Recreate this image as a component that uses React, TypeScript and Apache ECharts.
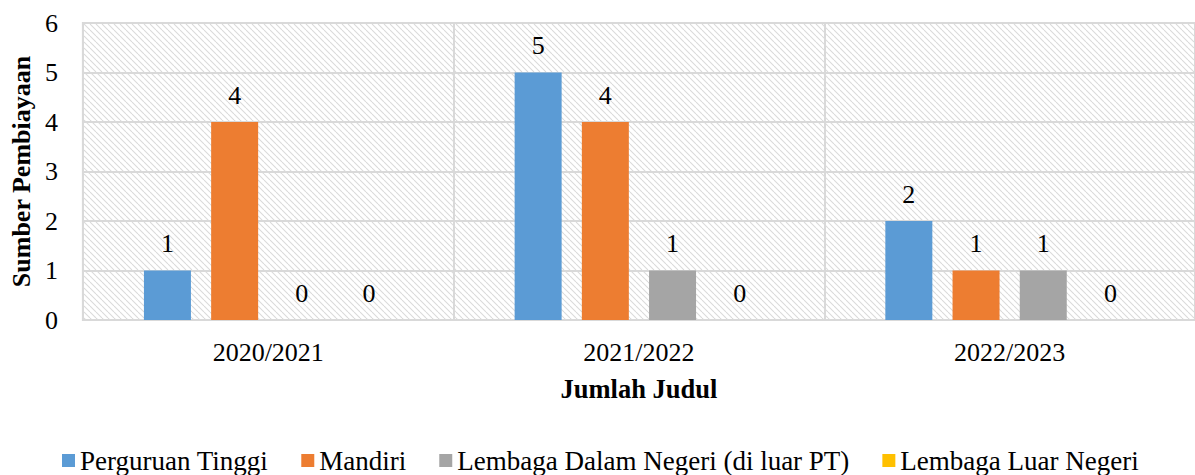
import React, { useEffect, useRef } from "react";
import * as echarts from "echarts";

const categories = ["2020/2021", "2021/2022", "2022/2023"];
const seriesNames = [
  "Perguruan Tinggi",
  "Mandiri",
  "Lembaga Dalam Negeri (di luar PT)",
  "Lembaga Luar Negeri",
];
const perguruanTinggi = [1, 5, 2];
const mandiri = [4, 4, 1];
const lembagaDalamNegeri = [0, 1, 1];
const lembagaLuarNegeri = [0, 0, 0];
const yTicks = [0, 1, 2, 3, 4, 5, 6];
const colors = ["#5B9BD5", "#ED7D31", "#A5A5A5", "#FFC000"];

function makeHatch(): HTMLCanvasElement {
  const c = document.createElement("canvas");
  const s = 6;
  c.width = s;
  c.height = s;
  const ctx = c.getContext("2d")!;
  ctx.fillStyle = "#ffffff";
  ctx.fillRect(0, 0, s, s);
  ctx.strokeStyle = "#dadada";
  ctx.lineWidth = 1.1;
  for (const off of [-s, 0, s]) {
    ctx.beginPath();
    ctx.moveTo(off, 0);
    ctx.lineTo(off + s, s);
    ctx.stroke();
  }
  return c;
}

export default function App() {
  const ref = useRef<HTMLDivElement>(null);
  useEffect(() => {
    document.body.style.margin = "0";
    const chart = echarts.init(ref.current!, null, { renderer: "svg" });
    const font = "Liberation Serif";
    const data = [perguruanTinggi, mandiri, lembagaDalamNegeri, lembagaLuarNegeri];
    chart.setOption({
      animation: false,
      textStyle: { fontFamily: font },
      grid: {
        left: 82,
        top: 23,
        width: 1126,
        height: 297,
        show: true,
        borderColor: "#d9d9d9",
        borderWidth: 2,
        backgroundColor: { image: makeHatch(), repeat: "repeat" },
      },
      legend: {
        top: 447,
        left: 62,
        padding: 0,
        itemWidth: 13,
        itemHeight: 13,
        itemGap: 33,
        icon: "rect",
        textStyle: { fontFamily: font, fontSize: 27, color: "#000", lineHeight: 27, padding: [0, 0, 0, 0] },
        data: seriesNames,
      },
      xAxis: {
        type: "category",
        data: categories,
        name: "Jumlah Judul",
        nameLocation: "middle",
        nameGap: 55,
        nameTextStyle: { fontFamily: font, fontSize: 26.5, fontWeight: "bold", color: "#000" },
        axisLine: { lineStyle: { color: "#d9d9d9", width: 2 } },
        axisTick: { show: false },
        axisLabel: { fontFamily: font, fontSize: 26, color: "#000", margin: 19 },
        splitLine: { show: true, lineStyle: { color: "#d9d9d9", width: 2 } },
      },
      yAxis: {
        type: "value",
        min: yTicks[0],
        max: yTicks[yTicks.length - 1],
        interval: 1,
        name: "Sumber Pembiayaan",
        nameLocation: "middle",
        nameGap: 47,
        nameTextStyle: { fontFamily: font, fontSize: 26, fontWeight: "bold", color: "#000" },
        axisLine: { show: false },
        axisTick: { show: false },
        axisLabel: { fontFamily: font, fontSize: 26, color: "#000", margin: 25 },
        splitLine: { lineStyle: { color: "#d9d9d9", width: 2 } },
      },
      series: seriesNames.map((name, i) => ({
        name,
        type: "bar",
        data: data[i],
        barWidth: 47,
        barGap: "43%",
        itemStyle: { color: colors[i] },
        label: {
          show: true,
          position: "top",
          distance: 14,
          fontFamily: font,
          fontSize: 26,
          color: "#000",
        },
      })),
    });
    return () => chart.dispose();
  }, []);
  return <div ref={ref} style={{ width: 1195, height: 475 }} />;
}
